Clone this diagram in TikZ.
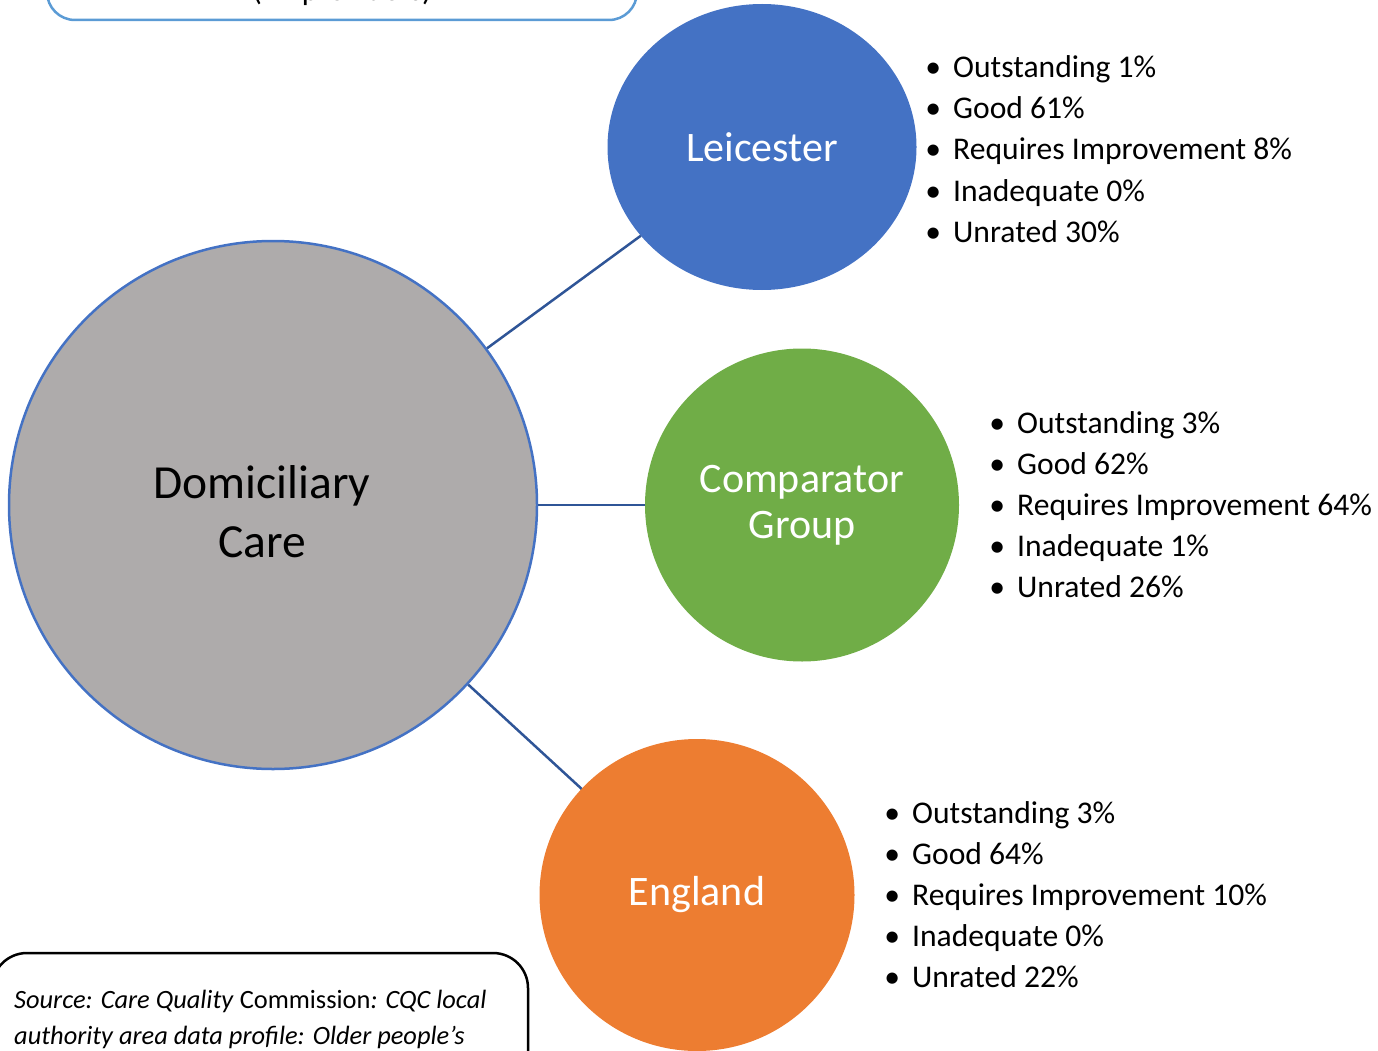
\documentclass[tikz,border=0pt]{standalone}
\usepackage{fontspec}
\setmainfont{Carlito}
\usetikzlibrary{shapes.geometric}

\definecolor{leiblue}{HTML}{4472C4}
\definecolor{compgreen}{HTML}{70AD47}
\definecolor{engorange}{HTML}{ED7D31}
\definecolor{domgrey}{HTML}{AEABAB}
\definecolor{linkblue}{HTML}{2F5597}
\definecolor{boxblue}{HTML}{5B9BD5}

\newcommand{\rated}[1]{\llap{\textbullet\hspace{12pt}}#1}

\begin{document}
\begin{tikzpicture}[x=1pt,y=-1pt,
  hub/.style={circle,draw=leiblue,line width=2.5pt,fill=domgrey,minimum size=528pt},
  hubtext/.style={align=center,inner sep=0pt,text height=104pt,text depth=0pt,
    font=\fontsize{47.5}{59}\selectfont},
  spoke/.style={ellipse,inner sep=0pt,outer sep=0pt,text=white,align=center,
    font=\fontsize{42}{46}\selectfont},
  link/.style={draw=linkblue,line width=2.5pt},
  rating/.style={anchor=base west,inner sep=0pt,font=\fontsize{31.6}{41}\selectfont},
  note/.style={line width=2.5pt}]

\useasboundingbox (0,0) rectangle (1378,1051);
\clip (0,0) rectangle (1378,1051);

% boxes cut by the page edge
\draw[note,draw=boxblue,rounded corners=28pt] (47,-80) rectangle (637,20);
\node[anchor=base,inner sep=0pt,font=\fontsize{31.6}{41}\selectfont] (scope) at (342,1) {(All providers)};

\draw[note,draw=black,rounded corners=35pt] (-8,953) rectangle (528,1120);
\node[anchor=base west,inner sep=0pt,font=\fontsize{26.4}{35}\selectfont] (src1) at (14,1008)
  {\textit{Source: Care Quality} Commission\textit{: CQC local}};
\node[anchor=base west,inner sep=0pt,font=\fontsize{26.4}{35}\selectfont\itshape] (src2) at (14,1044)
  {authority area data profile: Older people’s};

% circles
\node[hub] (dom) at (273,505) {};
\node[hubtext] (dom-text) at (262,505) {Domiciliary\\Care};
\node[spoke,fill=leiblue,minimum width=309pt,minimum height=286pt] (lei) at (762,147) {Leicester};
\node[spoke,fill=compgreen,minimum width=314pt,minimum height=313pt] (comp) at (802,505) {Comparator\\Group};
\node[spoke,fill=engorange,minimum width=315pt,minimum height=312pt] (eng) at (697,895) {England};

\draw[link] (dom) -- (lei);
\draw[link] (dom) -- (comp);
\draw[link] (dom) -- (eng);

% ratings
\foreach \r [count=\i from 0] in {Outstanding 1\%,Good 61\%,Requires Improvement 8\%,Inadequate 0\%,Unrated 30\%}
  \node[rating] (lei-\i) at (953,{78+41*\i}) {\rated{\r}};
\foreach \r [count=\i from 0] in {Outstanding 3\%,Good 62\%,Requires Improvement 64\%,Inadequate 1\%,Unrated 26\%}
  \node[rating] (comp-\i) at (1017,{433+41*\i}) {\rated{\r}};
\foreach \r [count=\i from 0] in {Outstanding 3\%,Good 64\%,Requires Improvement 10\%,Inadequate 0\%,Unrated 22\%}
  \node[rating] (eng-\i) at (912,{823+41.2*\i}) {\rated{\r}};
\end{tikzpicture}
\end{document}
